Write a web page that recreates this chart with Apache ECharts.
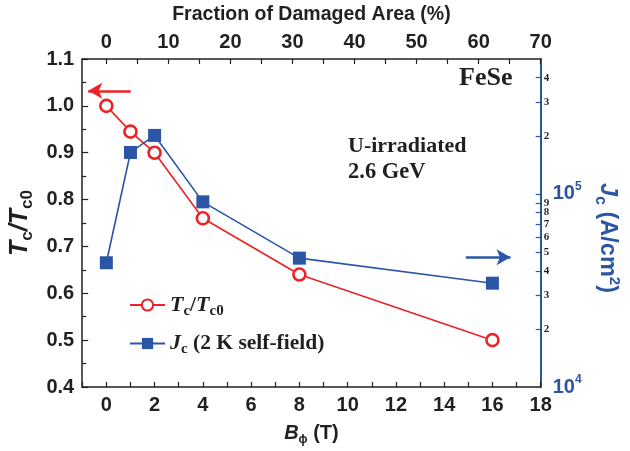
<!DOCTYPE html>
<html><head><meta charset="utf-8">
<script src="https://cdn.jsdelivr.net/npm/echarts@6/dist/echarts.min.js"></script>
<style>html,body{margin:0;padding:0;background:#fff}#c{width:630px;height:451px}</style>
</head><body><div id="c"></div>
<script>
// ---- data ----
const fieldB = [0, 1, 2, 4, 8, 16];
const tcRatio = [1.00, 0.945, 0.90, 0.76, 0.64, 0.50];
const jcValues = [44000, 164000, 201000, 91000, 46500, 34500];
const bottomTickLabels = [0, 2, 4, 6, 8, 10, 12, 14, 16, 18];
const bottomTicks = [-1, 0, 1, 2, 3, 4, 5, 6, 7, 8, 9, 10, 11, 12, 13, 14, 15, 16, 17, 18];
const topTickLabels = [0, 10, 20, 30, 40, 50, 60, 70];
const topTicks = [0, 5, 10, 15, 20, 25, 30, 35, 40, 45, 50, 55, 60, 65, 70];
const jcTicks = [10000, 20000, 30000, 40000, 50000, 60000, 70000, 80000, 90000, 100000, 200000, 300000, 400000];
const tcArrow = [[1.01, 1.032], [-0.75, 1.032]];
const jcArrow = [[14.9, 47000], [16.75, 47000]];

const RED = '#ec2227', BLUE = '#2b56a5', INK = '#231f20';
const SANS = 'Liberation Sans', SERIF = 'Liberation Serif';

const chart = echarts.init(document.getElementById('c'), null, {renderer: 'canvas'});
const tickLbl = {color: INK, fontFamily: SANS, fontWeight: 'bold', fontSize: 20};

chart.setOption({
  animation: false,
  backgroundColor: '#fff',
  grid: {left: 82, right: 86, top: 56, bottom: 55, containLabel: false},
  xAxis: [{
    type: 'value', position: 'bottom', min: -1, max: 18,
    axisLine: {onZero: false, lineStyle: {color: INK, width: 1.5}},
    axisTick: {inside: true, length: 5, customValues: bottomTicks, lineStyle: {color: INK, width: 1.2}},
    axisLabel: Object.assign({customValues: bottomTickLabels, margin: 8}, tickLbl),
    splitLine: {show: false},
    name: '{b|B}{s|ϕ}{n| (T)}', nameLocation: 'middle', nameGap: 33,
    nameTextStyle: {color: INK, fontFamily: SANS, fontWeight: 'bold', fontSize: 20, rich: {
      b: {fontStyle: 'italic', fontWeight: 'bold', fontSize: 20, fontFamily: SANS, color: INK},
      s: {fontSize: 12, fontFamily: SANS, color: INK, padding: [14, 0, 0, 0]},
      n: {fontSize: 20, fontWeight: 'bold', fontFamily: SANS, color: INK}
    }}
  }, {
    type: 'value', position: 'top', min: -70 / 18, max: 70,
    axisLine: {onZero: false, lineStyle: {color: INK, width: 1.5}},
    axisTick: {inside: true, length: 5, customValues: topTicks, lineStyle: {color: INK, width: 1.2}},
    axisLabel: Object.assign({customValues: topTickLabels, margin: 7}, tickLbl),
    splitLine: {show: false},
    name: 'Fraction of Damaged Area (%)', nameLocation: 'middle', nameGap: 34,
    nameTextStyle: {color: INK, fontFamily: SANS, fontWeight: 'bold', fontSize: 19.5}
  }],
  yAxis: [{
    type: 'value', position: 'left', min: 0.4, max: 1.1, interval: 0.1,
    axisLine: {show: true, onZero: false, lineStyle: {color: INK, width: 1.5}},
    axisTick: {inside: true, length: 6, lineStyle: {color: INK, width: 1.2}},
    minorTick: {show: true, splitNumber: 2, length: 4, lineStyle: {color: INK, width: 1.2}},
    axisLabel: Object.assign({margin: 8, formatter: v => v.toFixed(1)}, tickLbl),
    splitLine: {show: false},
    name: '{t|T}{s|c}{t|/T}{s|c0}', nameLocation: 'middle', nameGap: 37, nameRotate: 90,
    nameTextStyle: {rich: {
      t: {fontStyle: 'italic', fontWeight: 'bold', fontSize: 25, fontFamily: SANS, color: INK},
      s: {fontWeight: 'bold', fontSize: 17, fontFamily: SANS, color: INK, padding: [13, 0, 0, 0]}
    }}
  }, {
    type: 'log', position: 'right', min: 10000, max: 500000, logBase: 10,
    axisLine: {show: true, onZero: false, lineStyle: {color: BLUE, width: 2}},
    axisTick: {inside: true, length: 5, customValues: jcTicks, lineStyle: {color: BLUE, width: 1.2}},
    axisLabel: {
      customValues: jcTicks, margin: 3,
      formatter: function (v) {
        const e = Math.log10(v);
        const r = Math.round(e);
        if (Math.abs(e - r) < 1e-6) return '{p|10}{e|' + r + '}';
        return '{m|' + Math.round(v / Math.pow(10, Math.floor(e + 1e-9))) + '}';
      },
      rich: {
        p: {color: BLUE, fontFamily: SANS, fontWeight: 'bold', fontSize: 20, padding: [0, 0, 0, 9]},
        e: {color: BLUE, fontFamily: SANS, fontWeight: 'bold', fontSize: 12, padding: [0, 0, 14, 0]},
        m: {color: INK, fontFamily: SERIF, fontWeight: 'bold', fontSize: 11}
      }
    },
    splitLine: {show: false},
    name: '{j|J}{s|c}{n| (A/cm}{u|2}{n|)}', nameLocation: 'middle', nameGap: 43, nameRotate: -90,
    nameTextStyle: {padding: [0, 0, 0, 30], rich: {
      j: {fontStyle: 'italic', fontWeight: 'bold', fontSize: 23.5, fontFamily: SANS, color: BLUE},
      s: {fontWeight: 'bold', fontSize: 16, fontFamily: SANS, color: BLUE, padding: [13, 0, 0, 0]},
      n: {fontWeight: 'bold', fontSize: 23.5, fontFamily: SANS, color: BLUE},
      u: {fontWeight: 'bold', fontSize: 15, fontFamily: SANS, color: BLUE, padding: [0, 0, 15, 0]}
    }}
  }],
  legend: {
    orient: 'vertical', left: 124, top: 289, itemWidth: 35, itemHeight: 14, itemGap: 14,
    data: ['Tc', 'Jc'],
    formatter: function (n) {
      return n === 'Tc' ? '{t|T}{s|c}{n|/}{t|T}{s|c0}' : '{t|J}{s|c}{n| (2 K self-field)}';
    },
    textStyle: {rich: {
      t: {fontStyle: 'italic', fontWeight: 'bold', fontSize: 22, fontFamily: SERIF, color: INK},
      s: {fontWeight: 'bold', fontSize: 15, fontFamily: SERIF, color: INK, padding: [12, 0, 0, 0]},
      n: {fontWeight: 'bold', fontSize: 21.5, fontFamily: SERIF, color: INK}
    }}
  },
  graphic: [
    {type: 'text', left: 459, top: 65, style: {text: 'FeSe', fontFamily: SERIF, fontWeight: 'bold', fontSize: 26, fill: INK}},
    {type: 'text', left: 348, top: 135, style: {text: 'U-irradiated', fontFamily: SERIF, fontWeight: 'bold', fontSize: 22, fill: INK}},
    {type: 'text', left: 348, top: 161, style: {text: '2.6 GeV', fontFamily: SERIF, fontWeight: 'bold', fontSize: 22.5, fill: INK}}
  ],
  series: [{
    name: 'Tc', type: 'line', xAxisIndex: 0, yAxisIndex: 0,
    data: fieldB.map((b, i) => [b, tcRatio[i]]),
    symbol: 'circle', symbolSize: 12, showAllSymbol: true,
    lineStyle: {color: RED, width: 1.6},
    itemStyle: {color: '#fff', borderColor: RED, borderWidth: 2.6},
    emphasis: {disabled: true}, z: 3,
    markLine: {
      silent: true, symbol: ['none', 'arrow'], symbolSize: [12, 14], label: {show: false},
      lineStyle: {color: RED, width: 2.6, type: 'solid'}, emphasis: {disabled: true},
      data: [[{coord: tcArrow[0]}, {coord: tcArrow[1]}]]
    }
  }, {
    name: 'Jc', type: 'line', xAxisIndex: 0, yAxisIndex: 1,
    data: fieldB.map((b, i) => [b, jcValues[i]]),
    symbol: 'rect', symbolSize: 13, showAllSymbol: true,
    lineStyle: {color: BLUE, width: 1.6},
    itemStyle: {color: BLUE},
    emphasis: {disabled: true}, z: 4,
    markLine: {
      silent: true, symbol: ['none', 'arrow'], symbolSize: [12, 14], label: {show: false},
      lineStyle: {color: BLUE, width: 2.6, type: 'solid'}, emphasis: {disabled: true},
      data: [[{coord: jcArrow[0]}, {coord: jcArrow[1]}]]
    }
  }]
});
</script></body></html>
